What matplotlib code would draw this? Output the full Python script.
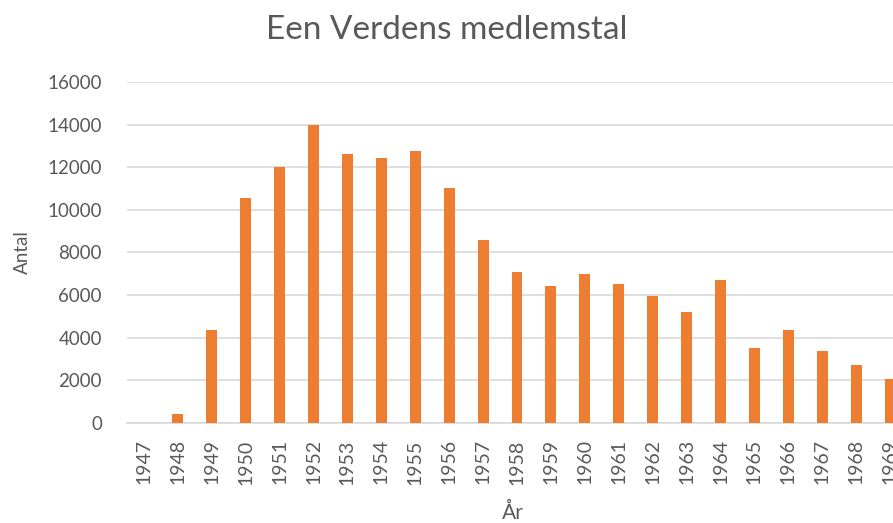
import matplotlib
matplotlib.use("Agg")
import matplotlib.pyplot as plt
import numpy as np

years = [str(y) for y in range(1947, 1970)]
members = [0, 400, 4350, 10580, 12000, 14000, 12650, 12450, 12750, 11050,
           8600, 7080, 6430, 6990, 6520, 5960, 5190, 6710, 3500, 4350,
           3390, 2730, 2070]
yticks = [0, 2000, 4000, 6000, 8000, 10000, 12000, 14000, 16000]

bar_color = "#ED7D31"
text_color = "#595959"
grid_color = "#D9D9D9"

plt.rcParams['font.family'] = ['Lato', 'DejaVu Sans']

fig = plt.figure(figsize=(8.93, 5.23), dpi=100)
# plot area runs past the right edge, like the cropped original
ax = fig.add_axes([0.1422, 0.1918, 0.8735, 0.6509])

x = np.arange(len(years))
ax.bar(x, members, width=0.32, color=bar_color, zorder=3)

ax.set_xlim(-0.5, len(years) - 0.5)
ax.set_ylim(0, 16000)
ax.set_yticks(yticks)
ax.set_yticklabels([str(v) for v in yticks])
ax.set_xticks(x)
ax.set_xticklabels(years, rotation=90)

ax.grid(axis="y", color=grid_color, linewidth=1.2, zorder=0)
for s in ["top", "right", "left"]:
    ax.spines[s].set_visible(False)
ax.spines["bottom"].set_color(grid_color)
ax.spines["bottom"].set_linewidth(1.2)

ax.tick_params(axis="y", length=0, pad=18, labelsize=13.5, labelcolor=text_color)
ax.tick_params(axis="x", length=0, pad=12, labelsize=14, labelcolor=text_color)

ax.set_ylabel("Antal", fontsize=13.5, color=text_color, labelpad=12)
ax.set_xlabel("År", fontsize=15, color=text_color, va="center")
ax.xaxis.set_label_coords(0.495, -0.265)
fig.text(0.5, 0.942, "Een Verdens medlemstal", ha="center", va="center",
         fontsize=24, color=text_color)

fig.savefig("out.png", dpi=100)
